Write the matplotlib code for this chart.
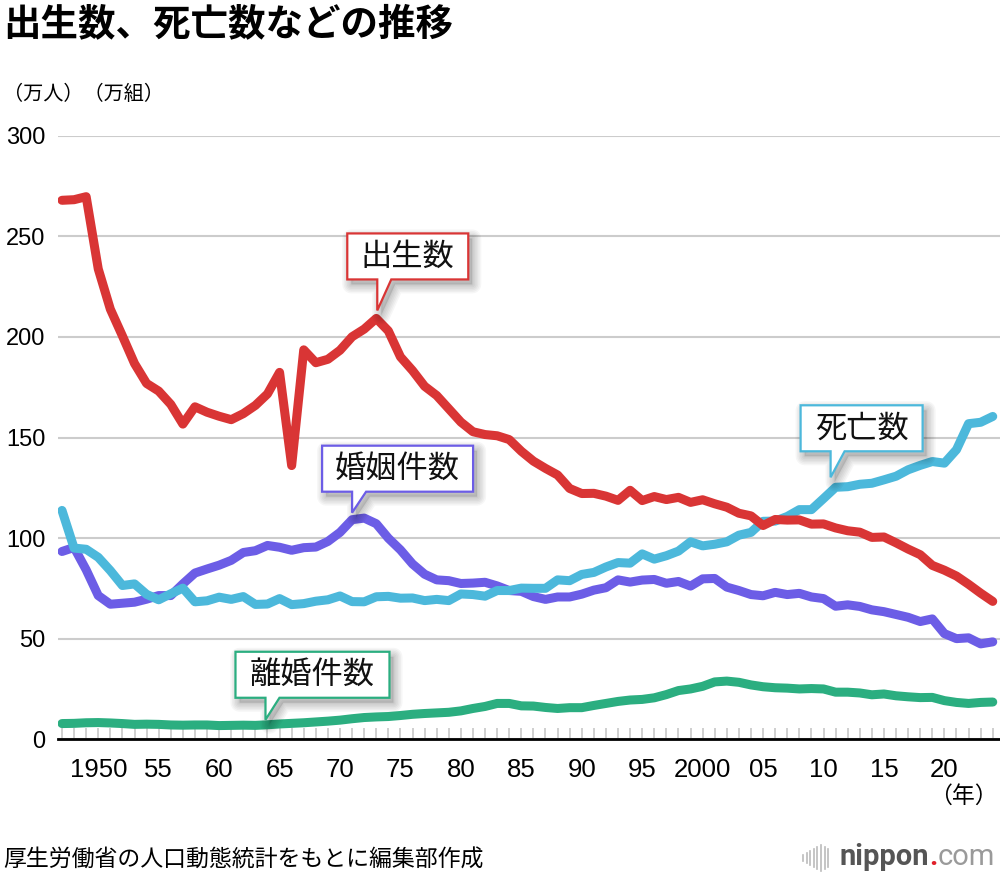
import matplotlib
matplotlib.use("Agg")
import matplotlib.pyplot as plt
import numpy as np
from matplotlib.patches import Polygon
from matplotlib.transforms import IdentityTransform
from matplotlib.lines import Line2D

plt.rcParams['font.family'] = ['Liberation Sans', 'Noto Sans CJK JP']

# data (万人 / 万組), 1947-2024
years = list(range(1947, 2025))
births = [267.9, 268.2, 269.7, 233.8, 213.8, 200.5, 186.8, 176.9, 173.1, 166.5,
          156.7, 165.3, 162.6, 160.6, 158.9, 161.9, 166.0, 171.7, 182.4, 136.1,
          193.6, 187.2, 188.9, 193.4, 200.1, 203.9, 209.2, 203.0, 190.1, 183.3,
          175.5, 170.9, 164.3, 157.7, 152.9, 151.5, 150.9, 149.0, 143.2, 138.3,
          134.7, 131.4, 124.7, 122.2, 122.3, 120.9, 118.8, 123.8, 118.7, 120.7,
          119.2, 120.3, 117.8, 119.1, 117.1, 115.4, 112.4, 111.1, 106.3, 109.3,
          109.0, 109.1, 107.0, 107.1, 105.1, 103.7, 103.0, 100.4, 100.6, 97.7,
          94.6, 91.8, 86.5, 84.1, 81.2, 77.1, 72.7, 68.6]
deaths = [113.8, 95.1, 94.5, 90.5, 83.9, 76.5, 77.3, 72.1, 69.4, 72.4,
          75.2, 68.4, 68.9, 70.7, 69.6, 71.0, 67.1, 67.3, 70.0, 67.0,
          67.5, 68.7, 69.4, 71.3, 68.5, 68.4, 70.9, 71.1, 70.2, 70.3,
          69.0, 69.6, 69.0, 72.3, 72.0, 71.2, 74.0, 74.0, 75.2, 75.1,
          75.1, 79.3, 78.9, 82.0, 83.0, 85.7, 87.9, 87.6, 92.2, 89.6,
          91.3, 93.6, 98.2, 96.2, 97.0, 98.2, 101.5, 102.9, 108.4, 108.5,
          110.8, 114.2, 114.2, 119.7, 125.3, 125.6, 126.8, 127.3, 129.0, 130.8,
          134.0, 136.2, 138.1, 137.3, 144.0, 156.9, 157.6, 160.5]
marriages = [93.4, 95.4, 84.3, 71.5, 67.2, 67.7, 68.2, 69.7, 71.5, 71.5,
             77.3, 82.7, 84.7, 86.6, 89.0, 92.9, 93.8, 96.4, 95.5, 94.0,
             95.3, 95.6, 98.4, 102.9, 109.2, 110.0, 107.2, 100.0, 94.2, 87.2,
             82.1, 79.3, 78.9, 77.5, 77.7, 78.1, 76.3, 74.0, 73.6, 71.0,
             69.6, 70.8, 70.8, 72.2, 74.2, 75.4, 79.3, 78.2, 79.2, 79.5,
             77.6, 78.5, 76.2, 79.8, 80.0, 75.7, 74.0, 72.0, 71.4, 73.1,
             72.0, 72.6, 70.8, 70.0, 66.2, 66.9, 66.1, 64.4, 63.5, 62.1,
             60.7, 58.6, 59.9, 52.6, 50.1, 50.5, 47.5, 48.5]
divorces = [7.9, 8.0, 8.3, 8.4, 8.2, 7.9, 7.5, 7.6, 7.5, 7.2,
            7.1, 7.2, 7.2, 6.9, 7.0, 7.1, 7.0, 7.3, 7.7, 8.0,
            8.3, 8.7, 9.1, 9.6, 10.3, 10.9, 11.2, 11.4, 11.9, 12.5,
            12.9, 13.2, 13.5, 14.2, 15.4, 16.4, 17.9, 17.9, 16.7, 16.6,
            15.9, 15.4, 15.8, 15.8, 16.9, 17.9, 18.9, 19.6, 19.9, 20.7,
            22.3, 24.3, 25.1, 26.4, 28.6, 29.0, 28.4, 27.1, 26.2, 25.7,
            25.5, 25.1, 25.3, 25.1, 23.5, 23.5, 23.1, 22.2, 22.6, 21.7,
            21.2, 20.8, 20.9, 19.3, 18.4, 17.9, 18.4, 18.6]

xtick_years = list(range(1950, 2021, 5))
xtick_labels = ['1950', '55', '60', '65', '70', '75', '80', '85', '90', '95',
                '2000', '05', '10', '15', '20']
yticks = [0, 50, 100, 150, 200, 250, 300]

RED = '#d93535'
CYAN = '#4cb8db'
PURPLE = '#6c5de6'
GREEN = '#2bae80'

fig = plt.figure(figsize=(10, 8.8), dpi=100)
ax = fig.add_axes([0.058, 0.1597, 0.942, 0.6861])

for s, c in [(divorces, GREEN), (marriages, PURPLE), (deaths, CYAN), (births, RED)]:
    ax.plot(years, s, color=c, lw=6.5, solid_capstyle='round',
            solid_joinstyle='round', zorder=3)

ax.set_xlim(1946.67, 2024.6)
ax.set_ylim(0, 300)
for sp in ['top', 'right', 'left']:
    ax.spines[sp].set_visible(False)
ax.spines['bottom'].set_color('black')
ax.spines['bottom'].set_linewidth(2)
ax.spines['bottom'].set_zorder(4)

ax.set_yticks(yticks)
ax.tick_params(axis='y', length=0, pad=9, labelsize=17)
ax.grid(axis='y', color='#cccccc', lw=1.5, zorder=1)

ax.set_xticks(xtick_years)
ax.set_xticklabels(xtick_labels)
ax.set_xticks(years, minor=True)
ax.tick_params(axis='x', which='both', direction='in', length=8, width=1.3,
               color='#cccccc', pad=13, labelsize=18.5)

fig.canvas.draw()


def callout(x, y, label, color, width, plen, tipdx=0, tipdy=7):
    tx, ty = ax.transData.transform((x, y))
    tx += tipdx
    ty += tipdy
    left = tx - 30
    right = left + width
    bottom = ty + plen
    top = bottom + 46
    verts = [(left, bottom), (tx, bottom), (tx, ty), (tx + 14, bottom),
             (right, bottom), (right, top), (left, top)]
    # soft shadow
    for i in range(6):
        sh = [(vx + 4, vy - 5) for vx, vy in verts]
        fig.add_artist(Polygon(sh, closed=True, transform=IdentityTransform(),
                               facecolor='none', edgecolor='#000000',
                               lw=2 + i * 2.2, alpha=0.035, joinstyle='round',
                               zorder=5))
    fig.add_artist(Polygon([(vx + 4, vy - 5) for vx, vy in verts], closed=True,
                           transform=IdentityTransform(), facecolor='#000000',
                           edgecolor='none', alpha=0.12, zorder=5))
    fig.add_artist(Polygon(verts, closed=True, transform=IdentityTransform(),
                           facecolor='white', edgecolor=color, lw=1.6,
                           joinstyle='miter', zorder=6))
    fig.text((left + right) / 2 / 1000, (bottom + top) / 2 / 880, label,
             ha='center', va='center', fontsize=22.5, color='#111111',
             family=['Noto Sans CJK JP'], zorder=7)


callout(1973, births[years.index(1973)], '出生数', RED, 121, 31, tipdx=1, tipdy=8)
callout(1971, marriages[years.index(1971)], '婚姻件数', PURPLE, 151, 21, tipdy=7)
callout(2011, deaths[years.index(2011)], '死亡数', CYAN, 122, 26, tipdx=-5, tipdy=10)
callout(1964, divorces[years.index(1964)], '離婚件数', GREEN, 154, 22, tipdx=-2, tipdy=5)

fig.text(0.003, 1 - 25 / 880, '出生数、死亡数などの推移', fontsize=27,
         fontweight='bold', family=['Noto Sans CJK JP'], va='center', ha='left')
fig.text(0.003, 1 - 95 / 880, '（万人）（万組）', fontsize=14.5,
         family=['Noto Sans CJK JP'], va='center', ha='left')
fig.text(0.998, 1 - 796 / 880, '（年）', fontsize=16.5,
         family=['Noto Sans CJK JP'], va='center', ha='right')
fig.text(0.003, 1 - 860 / 880, '厚生労働省の人口動態統計をもとに編集部作成',
         fontsize=16.5, family=['Noto Sans CJK JP'], va='center', ha='left')

# nippon.com logo, placed right to left
renderer = fig.canvas.get_renderer()
logo_y = 1 - 857 / 880
t3 = fig.text(0.995, logo_y, 'com', fontsize=21, color='#9a9a9a',
              family=['Roboto'], va='center', ha='right')
fig.canvas.draw()
bb3 = t3.get_window_extent(renderer)
t2 = fig.text(bb3.x0 / 1000, logo_y, '.', fontsize=21, fontweight='bold',
              color='#e0202a', family=['Roboto'], va='center', ha='right')
fig.canvas.draw()
bb2 = t2.get_window_extent(renderer)
t1 = fig.text(bb2.x0 / 1000, logo_y, 'nippon', fontsize=21, fontweight='bold',
              color='#555555', family=['Roboto'], va='center', ha='right')
fig.canvas.draw()
bb1 = t1.get_window_extent(renderer)
bar_h = [6, 10, 14, 18, 22, 26, 22, 18]
x_start = bb1.x0 - 8 - len(bar_h) * 3.6
for i, h in enumerate(bar_h):
    xb = (x_start + i * 3.6) / 1000
    fig.add_artist(Line2D([xb, xb], [(880 - 858 - h / 2) / 880, (880 - 858 + h / 2) / 880],
                          color='#bbbbbb', lw=1.2))

fig.savefig('out.png', dpi=100)
